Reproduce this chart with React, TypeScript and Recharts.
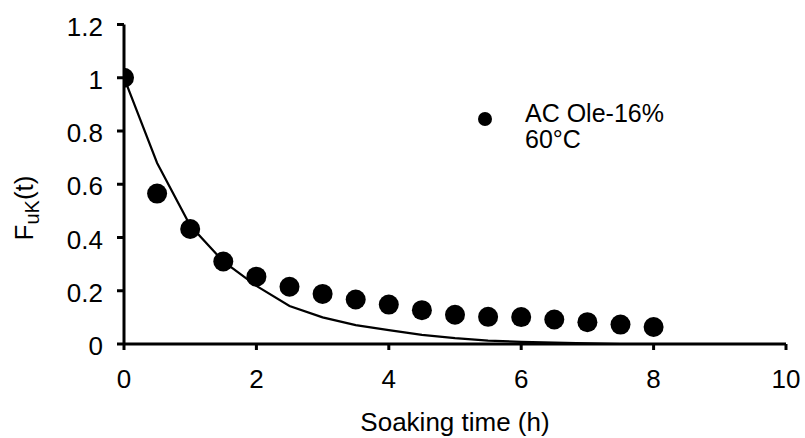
import React from "react";
import { ComposedChart, Line, Scatter, XAxis, YAxis } from "recharts";

const measuredTimes = [0, 0.5, 1, 1.5, 2, 2.5, 3, 3.5, 4, 4.5, 5, 5.5, 6, 6.5, 7, 7.5, 8];
const measuredValues = [1, 0.565, 0.432, 0.31, 0.253, 0.215, 0.188, 0.167, 0.148, 0.127, 0.11, 0.102, 0.101, 0.092, 0.082, 0.073, 0.064];

const modelTimes = [0, 0.5, 1, 1.5, 2, 2.5, 3, 3.5, 4, 4.5, 5, 5.5, 6, 6.5, 7, 7.5, 8];
const modelValues = [1, 0.68, 0.445, 0.31, 0.218, 0.143, 0.1, 0.071, 0.052, 0.034, 0.022, 0.013, 0.008, 0.005, 0.002, 0, 0];

const xTicks = [0, 2, 4, 6, 8, 10];
const yTicks = [0, 0.2, 0.4, 0.6, 0.8, 1, 1.2];

const legendLine1 = "AC Ole-16%";
const legendLine2 = "60°C";

const measured = measuredTimes.map((x, i) => ({ x, y: measuredValues[i] }));
const model = modelTimes.map((x, i) => ({ x, y: modelValues[i] }));

const FONT = "'Liberation Sans', Arial, sans-serif";

const Dot = (props: any) => {
  const { cx, cy } = props;
  if (cx == null || cy == null) return null;
  return <circle cx={cx} cy={cy} r={10} fill="#000" />;
};

const YLabel = () => (
  <text
    x={33}
    y={208}
    transform="rotate(-90, 33, 208)"
    textAnchor="middle"
    fontFamily={FONT}
    fontSize={26}
    fill="#000"
  >
    <tspan>F</tspan>
    <tspan fontSize={20} dy={6}>uK</tspan>
    <tspan dy={-6}>(t)</tspan>
  </text>
);

const XLabel = () => (
  <text x={455} y={431} textAnchor="middle" fontFamily={FONT} fontSize={26} fill="#000">
    Soaking time (h)
  </text>
);

export default function App() {
  return (
    <div style={{ position: "absolute", left: 0, top: 0, width: 805, height: 438, background: "#fff" }}>
      <ComposedChart
        width={805}
        height={438}
        margin={{ top: 24.5, right: 19, left: 24, bottom: 34 }}
      >
        <XAxis
          type="number"
          dataKey="x"
          domain={[0, 10]}
          ticks={xTicks}
          interval={0}
          height={60}
          allowDataOverflow
          stroke="#000"
          strokeWidth={3}
          tickSize={6}
          tickMargin={20}
          tick={{ fill: "#000", fontSize: 26, fontFamily: FONT }}
          label={<XLabel />}
        />
        <YAxis
          type="number"
          dataKey="y"
          domain={[0, 1.2]}
          ticks={yTicks}
          interval={0}
          width={100}
          allowDataOverflow
          stroke="#000"
          strokeWidth={3}
          tickSize={7}
          tickMargin={14}
          tick={{ fill: "#000", fontSize: 26, fontFamily: FONT, dy: 2 }}
          label={<YLabel />}
        />
        <Line
          data={model}
          dataKey="y"
          type="linear"
          stroke="#000"
          strokeWidth={2.2}
          dot={false}
          activeDot={false}
          isAnimationActive={false}
        />
        <Scatter data={measured} dataKey="y" fill="#000" shape={<Dot />} isAnimationActive={false} />
      </ComposedChart>
      <div
        style={{
          position: "absolute",
          left: 470,
          top: 100,
          fontFamily: FONT,
          fontSize: 25,
          lineHeight: "26px",
          color: "#000",
          display: "flex",
          alignItems: "flex-start",
        }}
      >
        <svg width={40} height={40} style={{ display: "block", marginTop: 5 }}>
          <circle cx={15} cy={14} r={7} fill="#000" />
        </svg>
        <div style={{ marginLeft: 15 }}>
          <div>{legendLine1}</div>
          <div>{legendLine2}</div>
        </div>
      </div>
    </div>
  );
}
